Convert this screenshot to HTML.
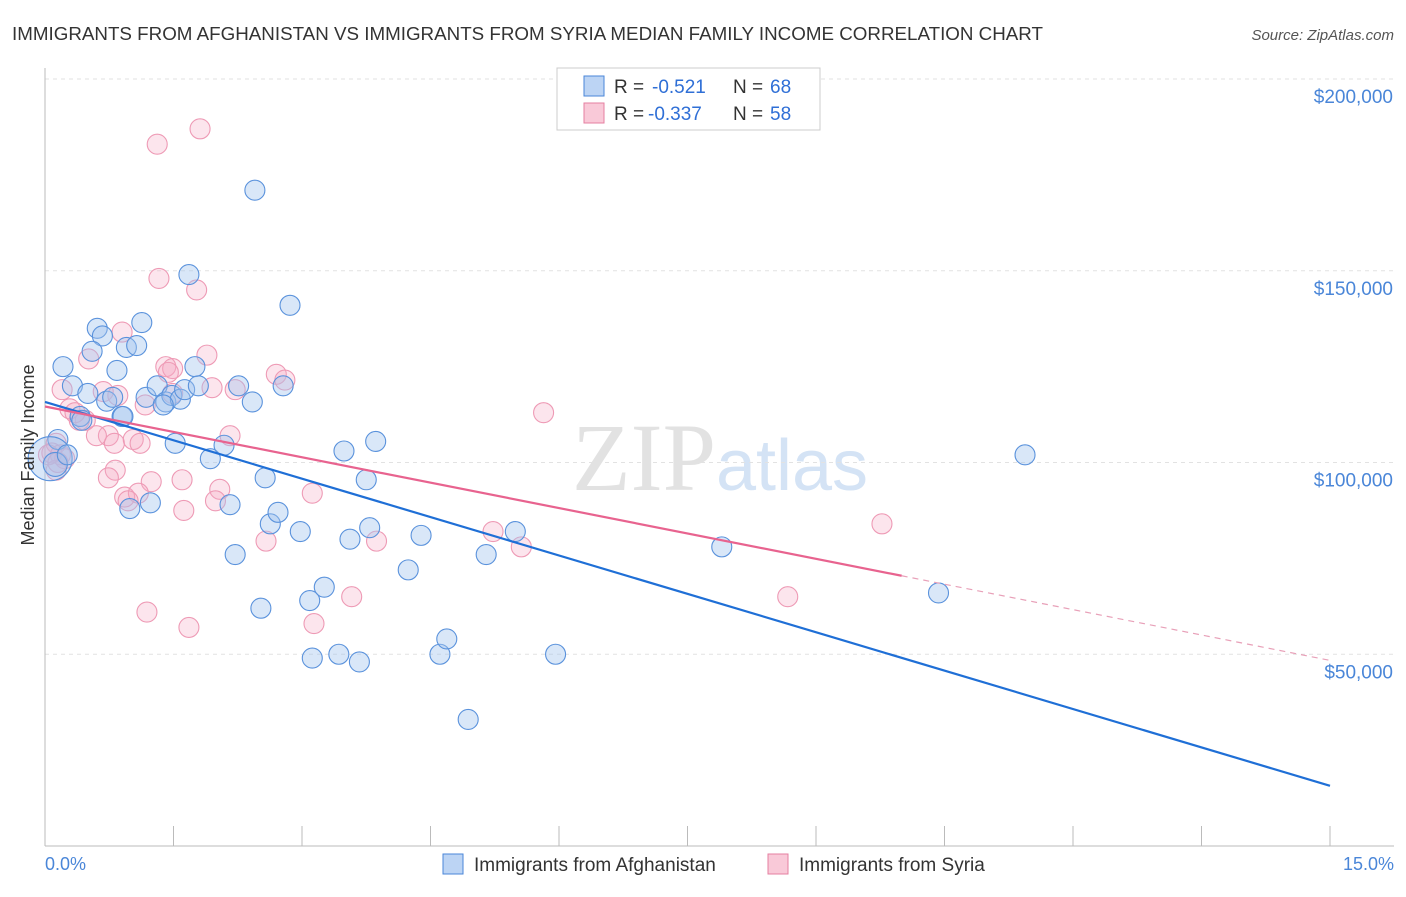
<!DOCTYPE html>
<html><head><meta charset="utf-8"><style>
body{margin:0;background:#fff;font-family:"Liberation Sans",sans-serif;}
</style></head><body>
<svg width="1406" height="892" xmlns="http://www.w3.org/2000/svg">
<text x="12" y="40" font-size="18" fill="#333" textLength="1031" lengthAdjust="spacingAndGlyphs">IMMIGRANTS FROM AFGHANISTAN VS IMMIGRANTS FROM SYRIA MEDIAN FAMILY INCOME CORRELATION CHART</text>
<text x="1394" y="40" font-size="15" fill="#555" font-style="italic" text-anchor="end">Source: ZipAtlas.com</text>
<text x="720" y="490" font-size="96" fill="#e2e2e2" text-anchor="middle" font-family="Liberation Serif">ZIP<tspan fill="#d4e3f5" font-family="Liberation Sans" font-size="72">atlas</tspan></text>
<g id="grid"></g><g id="axes"></g><g id="pts"></g><g id="lines"></g>
<text transform="translate(34,455) rotate(-90)" font-size="18" fill="#333" text-anchor="middle">Median Family Income</text>
<text x="45" y="870" font-size="18" fill="#4a86d8">0.0%</text>
<text x="1394" y="870" font-size="18" fill="#4a86d8" text-anchor="end">15.0%</text>
<g>
<rect x="557" y="68" width="263" height="62" fill="#fff" stroke="#ccc"/>
<rect x="584" y="76" width="20" height="20" fill="#bcd4f4" stroke="#4a86d8"/>
<rect x="584" y="103" width="20" height="20" fill="#f9c9d8" stroke="#e57fa0"/>
<text x="614" y="93" font-size="19" fill="#333">R =</text><text x="652" y="93" font-size="19" fill="#2f6fd6">-0.521</text>
<text x="733" y="93" font-size="19" fill="#333">N =</text><text x="770" y="93" font-size="19" fill="#2f6fd6">68</text>
<text x="614" y="120" font-size="19" fill="#333">R =</text><text x="648" y="120" font-size="19" fill="#2f6fd6">-0.337</text>
<text x="733" y="120" font-size="19" fill="#333">N =</text><text x="770" y="120" font-size="19" fill="#2f6fd6">58</text>
</g>
<g>
<rect x="443" y="854" width="20" height="20" fill="#bcd4f4" stroke="#4a86d8"/>
<text x="474" y="871" font-size="19" fill="#333">Immigrants from Afghanistan</text>
<rect x="768" y="854" width="20" height="20" fill="#f9c9d8" stroke="#e57fa0"/>
<text x="799" y="871" font-size="19" fill="#333">Immigrants from Syria</text>
</g>
</svg>
<script>
const yTicks=[50000,100000,150000,200000];
const yTickLabels=["$50,000","$100,000","$150,000","$200,000"];
const blueX=[0.21,0.32,0.61,0.67,0.55,0.5,0.72,0.79,0.84,0.95,1.07,1.13,0.9,0.41,0.43,0.15,1.23,0.99,1.18,1.31,1.41,1.48,1.58,1.63,1.52,1.68,1.75,1.79,1.93,2.09,2.16,2.22,2.26,2.42,2.45,2.52,2.57,2.63,2.72,2.78,2.86,2.98,3.09,3.12,3.26,3.43,3.49,3.56,3.67,3.75,3.79,3.86,4.24,4.39,4.61,4.69,4.94,5.15,5.49,5.96,7.9,10.43,11.44,0.06,0.12,0.26,0.91,1.38];
const blueY=[125000,120000,135000,133000,129000,118000,116000,117000,124000,130000,130500,136500,112000,112000,111000,106000,89500,88000,117000,120000,115800,117500,116500,119000,105000,149000,125000,120000,101000,104500,89000,76000,120000,115800,171000,62000,96000,84000,87000,120000,141000,82000,64000,49000,67500,50000,103000,80000,48000,95500,83000,105500,72000,81000,50000,54000,33000,76000,82000,50000,78000,66000,102000,101000,99500,102000,112000,115000];
const blueR=[10,10,10,10,10,10,10,10,10,10,10,10,10,10,10,10,10,10,10,10,10,10,10,10,10,10,10,10,10,10,10,10,10,10,10,10,10,10,10,10,10,10,10,10,10,10,10,10,10,10,10,10,10,10,10,10,10,10,10,10,10,10,10,22,12,10,10,10];
const pinkX=[1.81,1.31,1.33,1.77,0.9,0.51,1.89,1.41,1.49,1.44,2.7,2.8,1.49,0.2,0.68,0.85,2.22,1.95,1.17,0.29,0.47,0.4,0.74,0.6,0.81,1.03,1.11,2.16,0.13,0.08,0.18,0.23,0.13,0.82,0.74,1.24,1.6,2.04,3.12,0.93,1.09,0.97,1.99,1.62,2.58,3.87,5.23,5.56,5.82,3.58,8.67,9.77,3.14,1.19,1.68,0.04,0.35,0.15];
const pinkY=[187000,183000,148000,145000,134000,127000,128000,125000,124500,123500,123000,121500,118000,119000,118500,117500,119000,119500,115000,114000,111000,111000,107000,107000,105000,106000,105000,107000,105000,102500,102000,101000,98000,98000,96000,95000,95500,93000,92000,91000,92000,90000,90000,87500,79500,79500,82000,78000,113000,65000,65000,84000,58000,61000,57000,102000,113000,100000];
const blueLine={y0:115800,y15:15700};
const pinkLine={y0:114600,y15:48400,solidEnd:10.0};
const X0=45,X1=1330,PB=846,PT=79;
const xs=v=>X0+v/15*(X1-X0);
const ys=v=>PB-v/200000*(PB-PT);
const NS="http://www.w3.org/2000/svg";
function mk(tag,attrs,parent){const e=document.createElementNS(NS,tag);for(const k in attrs)e.setAttribute(k,attrs[k]);parent.appendChild(e);return e;}
const grid=document.getElementById('grid'),axes=document.getElementById('axes'),pts=document.getElementById('pts'),lines=document.getElementById('lines');
yTicks.forEach((t,i)=>{
 const g=mk('line',{x1:X0,x2:1394,y1:ys(t),y2:ys(t),stroke:'#e2e2e2','stroke-dasharray':'4,4'},grid);
 
 
 const tx=mk('text',{x:1393,y:ys(t)+24,'font-size':19,fill:'#4a86d8','text-anchor':'end'},axes);
 tx.textContent=yTickLabels[i];
 
 
});
const ya=mk('line',{x1:X0,x2:X0,y1:68,y2:846,stroke:'#bbb'},axes);


const xa=mk('line',{x1:X0,x2:1394,y1:846,y2:846,stroke:'#bbb'},axes);


for(let i=0;i<=10;i++){const t=mk('line',{x1:xs(i*1.5),x2:xs(i*1.5),y1:826,y2:846,stroke:'#bbb'},axes);
 
 }
pinkX.forEach((x,i)=>{const c=mk('circle',{cx:xs(x),cy:ys(pinkY[i]),r:10,fill:'rgba(244,170,195,0.3)',stroke:'#ee9ab5','stroke-width':1.1},pts);
 
 });
blueX.forEach((x,i)=>{const c=mk('circle',{cx:xs(x),cy:ys(blueY[i]),r:blueR[i],fill:'rgba(160,196,238,0.4)',stroke:'#5a92dc','stroke-width':1.1},pts);
 
 });
const bl=mk('line',{x1:xs(0),y1:ys(blueLine.y0),x2:xs(15),y2:ys(blueLine.y15),stroke:'#1f6fd6','stroke-width':2.2},lines);


const py=x=>pinkLine.y0+(pinkLine.y15-pinkLine.y0)*x/15;
const pl=mk('line',{x1:xs(0),y1:ys(py(0)),x2:xs(pinkLine.solidEnd),y2:ys(py(pinkLine.solidEnd)),stroke:'#e8638f','stroke-width':2.2},lines);


const pd=mk('line',{x1:xs(pinkLine.solidEnd),y1:ys(py(pinkLine.solidEnd)),x2:xs(15),y2:ys(py(15)),stroke:'#e8a0b8','stroke-width':1.2,'stroke-dasharray':'6,5'},lines);


</script>
</body></html>
